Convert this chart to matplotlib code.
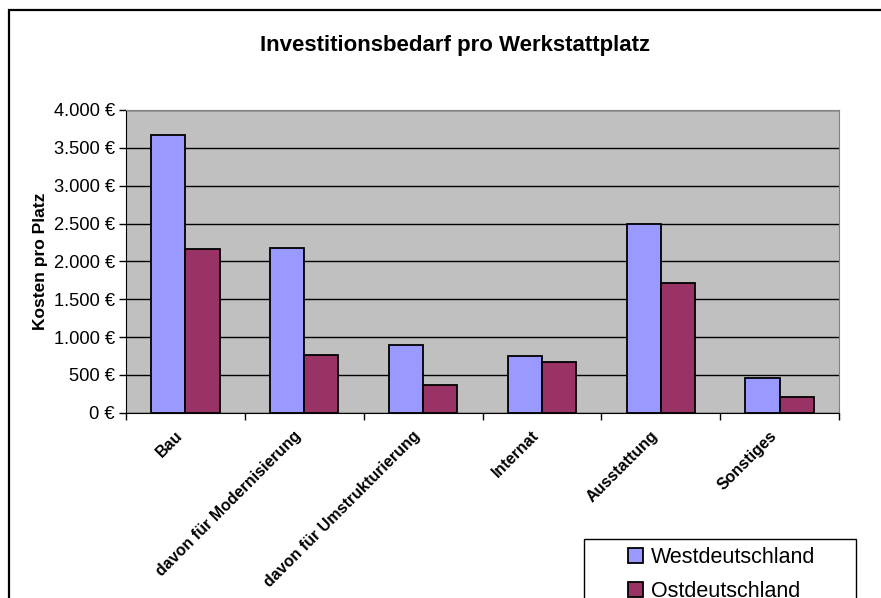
import matplotlib.pyplot as plt
import numpy as np
from matplotlib.patches import Rectangle
from matplotlib.ticker import FuncFormatter, MultipleLocator

plt.rcParams['font.family'] = ['Liberation Sans', 'DejaVu Sans']

categories = ['Bau', 'davon für Modernisierung', 'davon für Umstrukturierung',
              'Internat', 'Ausstattung', 'Sonstiges']
west = [3670, 2170, 890, 750, 2490, 460]
ost = [2160, 760, 365, 670, 1715, 205]
series_names = ['Westdeutschland', 'Ostdeutschland']

W, H = 881, 598
fig = plt.figure(figsize=(W / 100, H / 100), dpi=100)

# chart frame, open to the right and bottom
fig.patches.append(Rectangle((9 / W, -0.1), 1.2, 1 - 10.5 / H + 0.1,
                             transform=fig.transFigure, fill=False,
                             edgecolor='black', linewidth=1.6))

ax = fig.add_axes([126 / W, 1 - 412.7 / H, (839 - 126) / W, (412.7 - 110) / H])
ax.set_facecolor('#C0C0C0')

x = np.arange(len(categories))
bw = 0.287
ax.bar(x - bw / 2, west, bw, color='#9999FF', edgecolor='black', linewidth=1.3,
       label=series_names[0], zorder=3)
ax.bar(x + bw / 2, ost, bw, color='#993366', edgecolor='black', linewidth=1.3,
       label=series_names[1], zorder=3)

ax.set_xlim(-0.5, len(categories) - 0.5)
ax.set_ylim(0, 4000)
ax.yaxis.set_major_locator(MultipleLocator(500))
ax.yaxis.set_major_formatter(FuncFormatter(lambda v, p: f'{int(v):,} €'.replace(',', '.')))
ax.yaxis.grid(True, color='black', linewidth=1.0, zorder=1)
ax.set_axisbelow(True)

# ticks between categories; rotated labels hang just left of each group centre
ax.set_xticks(np.arange(len(categories) + 1) - 0.5)
ax.set_xticklabels([])
ax.set_xticks(x - 0.09, minor=True)
ax.set_xticklabels(categories, minor=True, rotation=45, ha='right',
                   rotation_mode='anchor', fontsize=11.5, fontweight='bold')
ax.tick_params(axis='x', which='minor', length=0, pad=11)
ax.tick_params(axis='x', which='major', length=5, width=1, direction='out')
ax.tick_params(axis='y', length=5, width=1, labelsize=13.2, pad=3)

for s in ['top', 'right']:
    ax.spines[s].set_color('#808080')
for s in ['left', 'bottom']:
    ax.spines[s].set_color('black')

ax.set_ylabel('Kosten pro Platz', fontsize=12.5, fontweight='bold', labelpad=4)

fig.text(455 / W, 1 - 45 / H, 'Investitionsbedarf pro Werkstattplatz',
         ha='center', va='center', fontsize=16, fontweight='bold')

# legend box, cut off by the lower edge
fig.patches.append(Rectangle((584 / W, -0.1), (856 - 584) / W, 1 - 539 / H + 0.1,
                             transform=fig.transFigure, fill=False,
                             edgecolor='black', linewidth=1.0))
fig.legend(loc='upper left', bbox_to_anchor=(628 / W, 1 - 547 / H),
           fontsize=15.5, frameon=False, borderaxespad=0, borderpad=0,
           handlelength=0.7, handleheight=0.7, handletextpad=0.35,
           labelspacing=0.62)

fig.savefig('out.png', dpi=100)
